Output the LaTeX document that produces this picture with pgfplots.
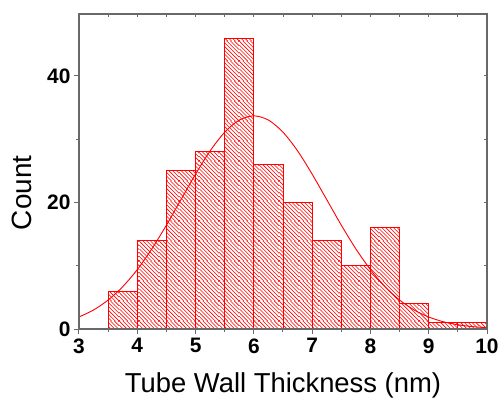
\documentclass[border=0pt]{standalone}
\usepackage{pgfplots}
\pgfplotsset{compat=1.18}
\usetikzlibrary{patterns.meta}
\usepackage{fontspec}
\setmainfont{Liberation Sans}
\definecolor{axgray}{RGB}{105,105,105}
\tikzdeclarepattern{
  name=redhatch,
  type=colored,
  bottom left={(0bp,0bp)},
  top right={(20bp,20bp)},
  tile size={(20bp,20bp)},
  code={
    \foreach \c in {0,4,...,40} {
      \draw[red, line width=0.6bp] (\c bp-21bp,21bp) -- (\c bp+1bp,-1bp);
    }
  }
}
\begin{document}
\begin{tikzpicture}
\useasboundingbox (-79bp,-72bp) rectangle (423bp,329bp);
\begin{axis}[
  at={(0,0)}, anchor=south west,
  width=408bp, height=315bp, scale only axis,
  xmin=3, xmax=10, ymin=0, ymax=49.8,
  axis line style={draw=axgray, line width=1.2bp},
  tick style={draw=axgray, line width=1bp},
  tick align=outside,
  xtick pos=left, ytick pos=left,
  xtick={3,4,5,6,7,8,9,10},
  ytick={0,20,40},
  minor x tick num=1, minor y tick num=1,
  major tick length=5bp, minor tick length=3bp,
  /pgf/number format/assume math mode=true,
  ticklabel style={font=\fontsize{21}{22}\selectfont\bfseries, text=black},
  xticklabel style={yshift=-1bp},
  xlabel={Tube Wall Thickness (nm)},
  ylabel={Count},
  label style={inner sep=0pt},
  xlabel style={font=\fontsize{27.5}{28}\selectfont, at={(axis description cs:0.5,-0.203)}, anchor=base},
  ylabel style={font=\fontsize{28}{28}\selectfont, at={(axis description cs:-0.115,0.432)}, anchor=south, rotate=0},
]
\addplot[ybar interval, color=red, draw=red, fill=none, line width=0.9bp]
coordinates {(3.5,6)(4,14)(4.5,25)(5,28)(5.5,46)(6,26)(6.5,20)(7,14)(7.5,10)(8,16)(8.5,4)(9,1)(9.5,1)(10,1)};
\addplot[ybar interval, draw=none, pattern=redhatch]
coordinates {(3.5,6)(4,14)(4.5,25)(5,28)(5.5,46)(6,26)(6.5,20)(7,14)(7.5,10)(8,16)(8.5,4)(9,1)(9.5,1)(10,1)};
\addplot[red, line width=0.9bp, smooth, no marks] coordinates {
(3,1.90)(3.25,3.01)(3.5,4.58)(3.75,6.69)(4,9.39)(4.25,12.67)(4.5,16.42)(4.75,20.46)
(5,24.48)(5.25,28.16)(5.5,31.11)(5.75,33.03)(6,33.70)(6.25,33.03)(6.5,31.11)(6.75,28.16)
(7,24.48)(7.25,20.46)(7.5,16.42)(7.75,12.67)(8,9.39)(8.25,6.69)(8.5,4.58)(8.75,3.01)
(9,1.90)(9.25,1.15)(9.5,0.67)(9.75,0.38)(10,0.20)};
\end{axis}
\begin{axis}[
  at={(0,0)}, anchor=south west,
  width=408bp, height=315bp, scale only axis,
  xmin=3, xmax=10, ymin=0, ymax=49.8,
  axis line style={draw=axgray, line width=1.2bp},
  tick style={draw=axgray, line width=1bp},
  tick align=inside,
  xtick pos=right, ytick pos=right,
  xtick={3,3.5,...,10},
  ytick={0,10,20,30,40},
  xticklabels={}, yticklabels={},
  major tick length=3bp,
]
\end{axis}
\end{tikzpicture}
\end{document}
